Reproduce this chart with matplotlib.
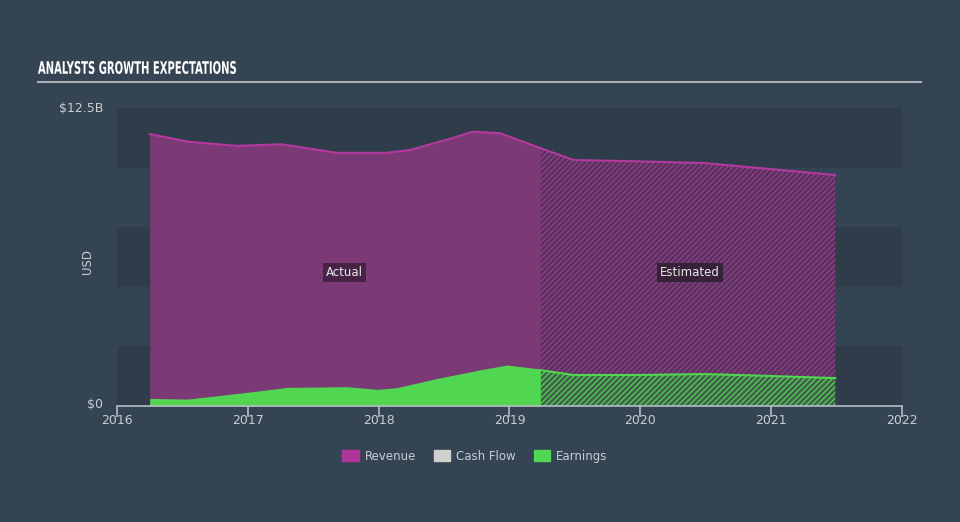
import numpy as np
import matplotlib.pyplot as plt
from matplotlib.patches import Patch, PathPatch
from matplotlib.textpath import TextPath
from matplotlib.font_manager import FontProperties
from matplotlib.transforms import Affine2D, IdentityTransform

plt.rcParams['hatch.linewidth'] = 1.0

# actual values (USD billions)
act_years = [2016.25, 2016.54, 2016.92, 2017.25, 2017.38, 2017.68, 2018.06,
             2018.24, 2018.57, 2018.72, 2018.93, 2019.24]
act_revenue = [11.41, 11.09, 10.91, 10.98, 10.88, 10.62, 10.62,
               10.74, 11.25, 11.51, 11.44, 10.81]
act_earn_years = [2016.25, 2016.54, 2016.99, 2017.30, 2017.76, 2017.99, 2018.14,
                  2018.45, 2018.77, 2018.98, 2019.24]
act_earnings = [0.32, 0.29, 0.57, 0.78, 0.81, 0.70, 0.77,
                1.16, 1.51, 1.72, 1.55]

# analyst estimates
est_years = [2019.24, 2019.49, 2020.0, 2020.49, 2020.99, 2021.49]
est_revenue = [10.81, 10.32, 10.26, 10.19, 9.94, 9.69]
est_earnings = [1.50, 1.30, 1.30, 1.34, 1.26, 1.17]

bg = '#344453'
band = '#2f3c49'
purple = '#7b3a76'
purple_line = '#b3399f'
green = '#50d650'
txt = '#c9ced3'

fig = plt.figure(figsize=(9.6, 5.22), dpi=100, facecolor=bg)
ax = fig.add_axes([117 / 960, 1 - 406 / 522, (902 - 117) / 960, 298 / 522])
ax.set_facecolor(bg)
ax.set_xlim(2016, 2022)
ax.set_ylim(0, 12.5)

for lo in [0, 5, 10]:
    ax.axhspan(lo, lo + 2.5, color=band, lw=0, zorder=0)

# actual areas
ax.fill_between(act_years, 0, act_revenue, color=purple, lw=0, zorder=1)
ax.plot(act_years, act_revenue, color=purple_line, lw=1.5, zorder=3)
ax.fill_between(act_earn_years, 0, act_earnings, color=green, lw=0, zorder=2)

# estimated areas (hatched)
ax.fill_between(est_years, est_earnings, est_revenue, facecolor='#553459',
                edgecolor='#933b8e', hatch='//////', lw=0, zorder=1)
ax.plot(est_years, est_revenue, color=purple_line, lw=1.5, zorder=3)
ax.fill_between(est_years, 0, est_earnings, facecolor='#40604a',
                edgecolor='#55c955', hatch='//////', lw=0, zorder=2)
ax.plot(est_years, est_earnings, color=green, lw=1.5, zorder=3)

ax.text(2017.74, 5.6, 'Actual', color='#e8e8e8', fontsize=8.5, ha='center', va='center',
        zorder=5, bbox=dict(boxstyle='square,pad=0.25', fc='#3d1f3d', ec='none', alpha=0.85))
ax.text(2020.38, 5.6, 'Estimated', color='#e8e8e8', fontsize=8.5, ha='center', va='center',
        zorder=5, bbox=dict(boxstyle='square,pad=0.25', fc='#2e1e30', ec='none', alpha=0.85))

for s in ['top', 'right', 'left']:
    ax.spines[s].set_visible(False)
ax.spines['bottom'].set_color('#b5bcc4')
ax.spines['bottom'].set_linewidth(1.2)
ax.set_xticks([2016, 2017, 2018, 2019, 2020, 2021, 2022])
ax.set_xticklabels(['2016', '2017', '2018', '2019', '2020', '2021', '2022'])
ax.tick_params(axis='x', colors='#b5bcc4', length=8, width=1.2, labelcolor=txt,
               labelsize=9, pad=-2)
ax.set_yticks([])

fig.text(103 / 960, 1 - 404 / 522, '$0', color=txt, fontsize=9, ha='right', va='center')
fig.text(103 / 960, 1 - 108 / 522, '$12.5B', color=txt, fontsize=9, ha='right', va='center')
fig.text(88 / 960, 1 - 262 / 522, 'USD', color=txt, fontsize=8.5, rotation=90,
         ha='center', va='center')

# condensed title: squeeze a text path horizontally
tp = TextPath((0, 0), 'ANALYSTS GROWTH EXPECTATIONS', size=18,
              prop=FontProperties(family='DejaVu Sans', weight='bold'))
ext = tp.get_extents()
sx = 198 / ext.width
sy = 13 / ext.height
tr = Affine2D().translate(-ext.x0, -ext.y0).scale(sx, sy).translate(38, 522 - 74)
fig.patches.append(PathPatch(tp, transform=tr + IdentityTransform(), fc='white',
                             ec='none', figure=fig))
fig.add_artist(plt.Line2D([38 / 960, 921 / 960], [1 - 82 / 522] * 2,
                          color='#a9afb5', lw=1.5))

handles = [Patch(color='#b0369c', label='Revenue'),
           Patch(color='#cfcfcf', label='Cash Flow'),
           Patch(color=green, label='Earnings')]
leg = fig.legend(handles=handles, loc='center', bbox_to_anchor=(475 / 960, 1 - 456 / 522),
                 ncol=3, frameon=False, fontsize=8.5, handlelength=1.4, handleheight=1.0,
                 columnspacing=1.5, handletextpad=0.5)
for t in leg.get_texts():
    t.set_color(txt)

fig.savefig('out.png', dpi=100, facecolor=bg)
